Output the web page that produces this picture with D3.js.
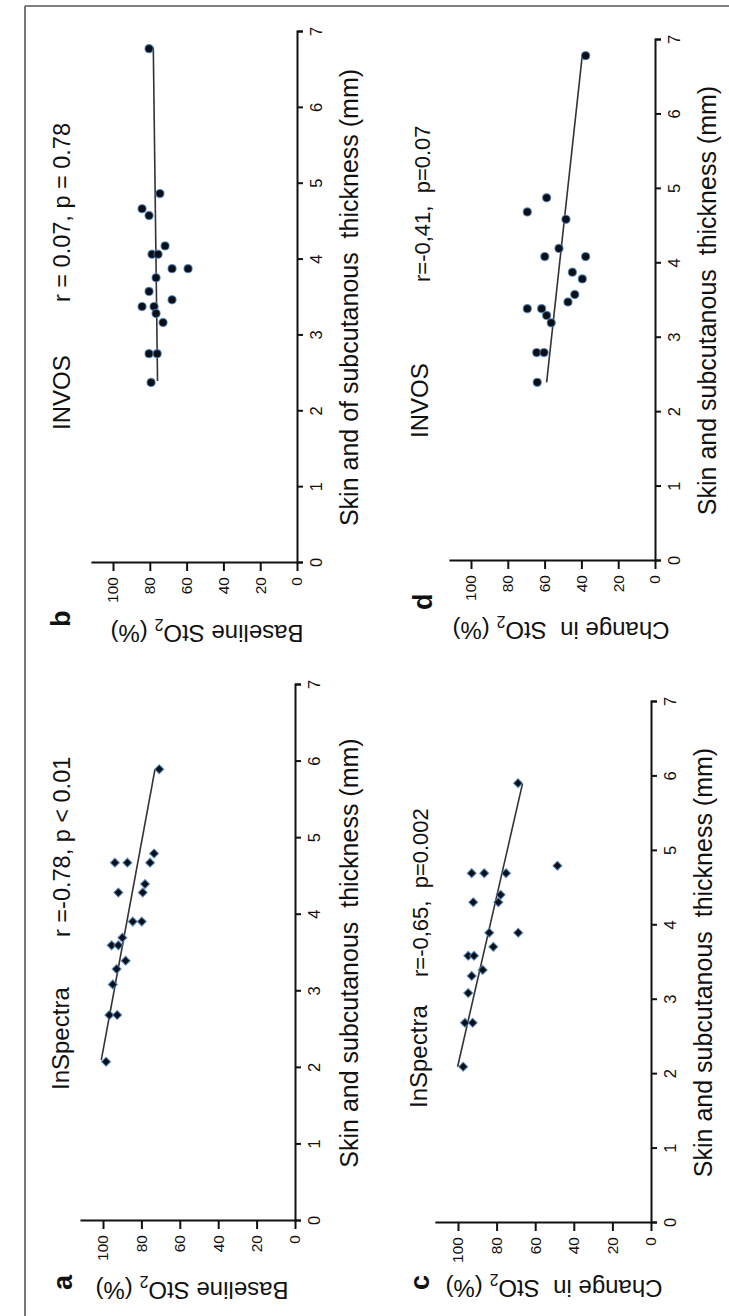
<!DOCTYPE html>
<html>
<head>
<meta charset="utf-8">
<script src="https://cdn.jsdelivr.net/npm/d3@7"></script>
<style>
  body { margin: 0; background: #fff; }
  text { font-family: "Liberation Sans", Arial, sans-serif; fill: #111; white-space: pre; }
</style>
</head>
<body>
<script>
// tick labels
var thicknessTicks = [0, 1, 2, 3, 4, 5, 6, 7];
var sto2Ticks = [0, 20, 40, 60, 80, 100];

// a: InSpectra, baseline StO2
var aThickness = [5.90, 4.80, 4.68, 4.68, 4.68, 4.40, 4.29, 4.29, 3.91, 3.91, 3.70, 3.60, 3.60, 3.40, 3.29, 3.09, 2.69, 2.69, 2.08];
var aSto2 = [70.7, 73.4, 93.8, 87.3, 75.5, 78.1, 92.0, 79.3, 84.5, 79.8, 89.9, 95.5, 92.0, 88.2, 92.9, 94.9, 96.7, 92.6, 98.4];
var aFitThickness = [2.1, 5.9];
var aFitSto2 = [100.9, 72.9];

// b: INVOS, baseline StO2
var bThickness = [6.78, 4.87, 4.67, 4.58, 4.18, 4.07, 4.07, 3.88, 3.88, 3.76, 3.58, 3.47, 3.38, 3.38, 3.29, 3.17, 2.76, 2.76, 2.38];
var bSto2 = [80.4, 74.5, 84.2, 80.4, 71.7, 78.8, 75.5, 67.9, 59.2, 76.6, 80.4, 67.9, 84.2, 77.7, 76.6, 72.8, 80.4, 76.0, 79.3];
var bFitThickness = [2.4, 6.8];
var bFitSto2 = [75.8, 78.1];

// c: InSpectra, change in StO2
var cThickness = [5.91, 4.80, 4.70, 4.70, 4.70, 4.41, 4.31, 4.31, 3.90, 3.90, 3.71, 3.59, 3.59, 3.40, 3.32, 3.09, 2.69, 2.69, 2.10];
var cSto2 = [68.9, 48.5, 92.9, 86.4, 75.1, 77.9, 92.1, 79.1, 83.8, 68.8, 81.7, 94.7, 91.7, 87.2, 92.9, 94.7, 96.4, 92.4, 97.3];
var cFitThickness = [2.1, 5.9];
var cFitSto2 = [100.2, 66.6];

// d: INVOS, change in StO2
var dThickness = [6.79, 4.88, 4.69, 4.59, 4.20, 4.09, 4.09, 3.88, 3.79, 3.58, 3.48, 3.39, 3.39, 3.30, 3.20, 2.80, 2.80, 2.40];
var dSto2 = [37.7, 58.9, 69.4, 48.4, 52.2, 59.9, 37.7, 44.9, 39.5, 43.6, 47.3, 69.4, 61.6, 58.9, 56.4, 64.3, 60.3, 64.0];
var dFitThickness = [2.4, 6.8];
var dFitSto2 = [58.9, 39.5];

var W = 729, H = 1316;

var svg = d3.select("body").append("svg")
  .attr("width", W)
  .attr("height", H);

// the whole figure is drawn upright, then turned a quarter to the left
var fig = svg.append("g")
  .attr("transform", "translate(0," + H + ") rotate(-90)");

// frame (left and top edges only)
fig.append("line").attr("x1", 0).attr("x2", 1310).attr("y1", 25).attr("y2", 25)
  .attr("stroke", "#555").attr("stroke-width", 1.6);
fig.append("line").attr("x1", 1310).attr("x2", 1310).attr("y1", 25).attr("y2", W)
  .attr("stroke", "#555").attr("stroke-width", 1.6);

var panels = [
  { letter: "a", device: "InSpectra", stat: "r =-0.78, p < 0.01", ylab: "Baseline StO", xlab: "Skin and subcutanous  thickness (mm)",
    t: aThickness, s: aSto2, ft: aFitThickness, fs: aFitSto2, mark: "diamond",
    x0: 95, x7: 631, y0: 295, y100: 103,
    letterPos: [26, 72], devPos: [226, 69], statPos: [379, 70], ylabPos: [34, 192], xlabY: 358 },
  { letter: "b", device: "INVOS", stat: "r = 0.07, p = 0.78", ylab: "Baseline StO", xlab: "Skin and of subcutanous  thickness (mm)",
    t: bThickness, s: bSto2, ft: bFitThickness, fs: bFitSto2, mark: "circle",
    x0: 753, x7: 1284, y0: 297, y100: 113,
    letterPos: [689, 70], devPos: [886, 70], statPos: [1014, 70], ylabPos: [691, 207], xlabY: 358 },
  { letter: "c", device: "InSpectra", stat: "r=-0,65,  p=0.002", ylab: "Change in  StO", xlab: "Skin and subcutanous  thickness (mm)",
    t: cThickness, s: cSto2, ft: cFitThickness, fs: cFitSto2, mark: "diamond",
    x0: 93, x7: 614, y0: 651, y100: 458,
    letterPos: [26, 429], devPos: [208, 427], statPos: [339, 428], ylabPos: [36, 554], xlabY: 712 },
  { letter: "d", device: "INVOS", stat: "r=-0,41,  p=0.07", ylab: "Change in  StO", xlab: "Skin and subcutanous  thickness (mm)",
    t: dThickness, s: dSto2, ft: dFitThickness, fs: dFitSto2, mark: "circle",
    x0: 755, x7: 1276, y0: 655, y100: 471,
    letterPos: [706, 432], devPos: [878, 428], statPos: [1034, 430], ylabPos: [694, 561], xlabY: 716 }
];

panels.forEach(function(p) {
  var g = fig.append("g");
  var x = d3.scaleLinear().domain([0, 7]).range([p.x0, p.x7]);
  var y = d3.scaleLinear().domain([0, 100]).range([p.y0, p.y100]);
  var yAxisScale = y.copy().domain([0, 112]).range([p.y0, y(112)]);

  var xAxis = g.append("g")
    .attr("transform", "translate(0," + p.y0 + ")")
    .call(d3.axisBottom(x).tickValues(thicknessTicks).tickFormat(d3.format("d"))
      .tickSize(6).tickPadding(7));
  var yAxis = g.append("g")
    .attr("transform", "translate(" + p.x0 + ",0)")
    .call(d3.axisLeft(yAxisScale).tickValues(sto2Ticks).tickFormat(d3.format("d"))
      .tickSize(8).tickSizeOuter(0).tickPadding(6));
  xAxis.selectAll("text").attr("font-size", 16.5).attr("font-family", null);
  yAxis.selectAll("text").attr("font-size", 15.5).attr("font-family", null);
  g.selectAll(".domain, .tick line").attr("stroke", "#111").attr("stroke-width", 2);

  // fitted line
  g.append("line")
    .attr("x1", x(p.ft[0])).attr("y1", y(p.fs[0]))
    .attr("x2", x(p.ft[1])).attr("y2", y(p.fs[1]))
    .attr("stroke", "#333").attr("stroke-width", 1.6);

  var pts = p.t.map(function(d, i) { return { t: d, s: p.s[i] }; });
  if (p.mark === "circle") {
    g.selectAll(".pt").data(pts).enter().append("circle")
      .attr("cx", function(d) { return x(d.t); })
      .attr("cy", function(d) { return y(d.s); })
      .attr("r", 4.1)
      .attr("fill", "#0b0f18")
      .attr("stroke", "#4f86c0").attr("stroke-width", 1.2).attr("stroke-opacity", 0.75);
  } else {
    var diamond = d3.symbol().type(d3.symbolSquare).size(40);
    g.selectAll(".pt").data(pts).enter().append("path")
      .attr("d", diamond)
      .attr("transform", function(d) { return "translate(" + x(d.t) + "," + y(d.s) + ") rotate(45)"; })
      .attr("fill", "#0b0f18")
      .attr("stroke", "#4f86c0").attr("stroke-width", 1.2).attr("stroke-opacity", 0.75);
  }

  // labels
  g.append("text").attr("x", p.letterPos[0]).attr("y", p.letterPos[1])
    .attr("font-size", 27).attr("font-weight", "bold").text(p.letter);
  g.append("text").attr("x", p.devPos[0]).attr("y", p.devPos[1])
    .attr("font-size", 24).text(p.device);
  g.append("text").attr("x", p.statPos[0]).attr("y", p.statPos[1])
    .attr("font-size", p.letter === "c" || p.letter === "d" ? 22 : 23.5).text(p.stat);

  g.append("text")
    .attr("x", (p.x0 + p.x7) / 2).attr("y", p.xlabY)
    .attr("text-anchor", "middle").attr("font-size", 25)
    .text(p.xlab);

  var yl = g.append("text")
    .attr("transform", "translate(" + p.ylabPos[0] + "," + p.ylabPos[1] + ") rotate(-90)")
    .attr("text-anchor", "middle").attr("font-size", 24);
  yl.append("tspan").text(p.ylab);
  yl.append("tspan").attr("dy", 6).attr("font-size", 16).text("2");
  yl.append("tspan").attr("dy", -6).text(" (%)");
});
</script>
</body>
</html>
